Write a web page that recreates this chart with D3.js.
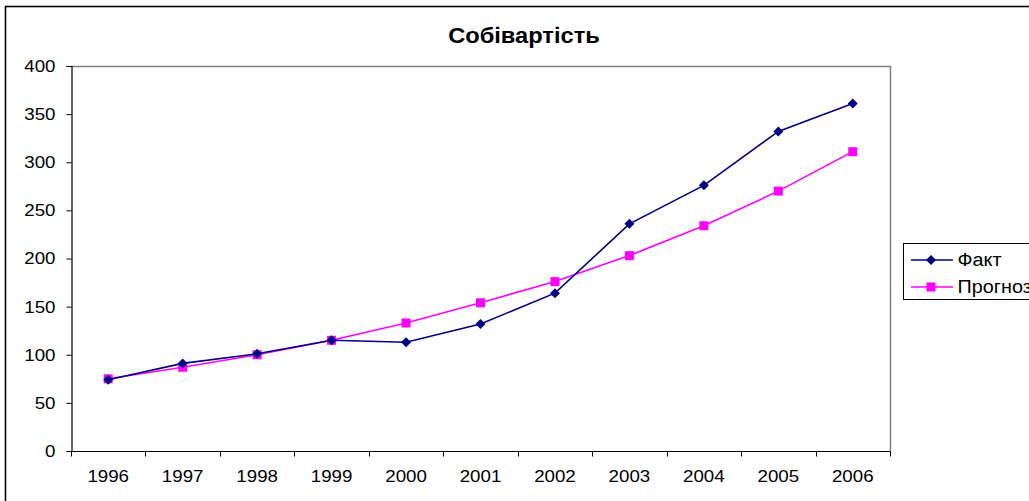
<!DOCTYPE html>
<html>
<head>
<meta charset="utf-8">
<script src="https://cdn.jsdelivr.net/npm/d3@7"></script>
<style>
  html, body { margin: 0; padding: 0; background: #fff; }
  svg { display: block; }
  text { font-family: "Liberation Sans", Arial, sans-serif; fill: #000; }
</style>
</head>
<body>
<svg id="chart" width="1029" height="501"></svg>
<script>
// Cost price: actual vs forecast, 1996–2006
const years = ["1996","1997","1998","1999","2000","2001","2002","2003","2004","2005","2006"];
const fact = [74, 91, 101, 115, 113, 132, 164, 236, 276, 332, 361];
const forecast = [75, 87, 100, 115, 133, 154, 176, 203, 234, 270, 311];
const yTicks = [0, 50, 100, 150, 200, 250, 300, 350, 400];
const seriesNames = ["Факт", "Прогноз"];
const title = "Собівартість";

const svg = d3.select("#chart");
const W = 1029, H = 501;
const STRETCH = 1.1; // text is drawn slightly wide

// widen a text selection horizontally while keeping its anchor
function widen(sel) {
  sel.each(function () {
    const len = this.getComputedTextLength();
    d3.select(this).attr("textLength", len * STRETCH).attr("lengthAdjust", "spacingAndGlyphs");
  });
}

// outer chart frame
svg.append("rect")
  .attr("x", 5.5).attr("y", 6.5)
  .attr("width", W + 10).attr("height", H + 10)
  .attr("fill", "#fff").attr("stroke", "#000").attr("stroke-width", 1.6);

const plot = { left: 71, right: 890, top: 66, bottom: 451 };

const x = d3.scaleBand().domain(years).range([plot.left, plot.right]);
const y = d3.scaleLinear().domain([0, 400]).range([plot.bottom, plot.top]);

// plot area frame (top and right in grey)
svg.append("path")
  .attr("d", `M${plot.left},${plot.top + 0.5}H${plot.right + 0.5}V${plot.bottom}`)
  .attr("fill", "none").attr("stroke", "#808080").attr("stroke-width", 1.5);

// title
svg.append("text")
  .attr("x", 524).attr("y", 43)
  .attr("text-anchor", "middle")
  .attr("font-size", 21.5).attr("font-weight", "bold")
  .text(title)
  .call(widen);

// y axis
const yAxis = d3.axisLeft(y).tickValues(yTicks).tickSize(5).tickPadding(11).tickFormat(d3.format("d"));
const gy = svg.append("g").attr("transform", `translate(${plot.left + 0.5},0)`).call(yAxis);
gy.attr("font-size", null).attr("font-family", null);
gy.select(".domain").attr("stroke", "#000").attr("stroke-width", 1.2);
gy.selectAll(".tick line").attr("stroke", "#000");
gy.selectAll(".tick text").attr("font-size", 17).call(widen);

// x axis: ticks between categories
const gx = svg.append("g").attr("transform", `translate(0,${plot.bottom + 0.5})`);
gx.append("line")
  .attr("x1", plot.left).attr("x2", plot.right + 0.5)
  .attr("stroke", "#000").attr("stroke-width", 1.2);
const boundaries = years.map(d => x(d)).concat([plot.right]);
gx.selectAll("line.tk").data(boundaries).enter().append("line")
  .attr("class", "tk")
  .attr("x1", d => Math.round(d) + 0.5).attr("x2", d => Math.round(d) + 0.5)
  .attr("y1", 0).attr("y2", 5)
  .attr("stroke", "#000");
gx.selectAll("text").data(years).enter().append("text")
  .attr("x", d => x(d) + x.bandwidth() / 2)
  .attr("y", 30.5)
  .attr("text-anchor", "middle")
  .attr("font-size", 17)
  .text(d => d)
  .call(widen);

const cx = d => x(d) + x.bandwidth() / 2;
const line = d3.line().x((d, i) => cx(years[i])).y(d => y(d));

const navy = "#000080", magenta = "#ff00ff";

// forecast series
svg.append("path").datum(forecast)
  .attr("d", line).attr("fill", "none")
  .attr("stroke", magenta).attr("stroke-width", 1.6);
svg.selectAll("rect.fc").data(forecast).enter().append("rect")
  .attr("class", "fc")
  .attr("x", (d, i) => cx(years[i]) - 4.5).attr("y", d => y(d) - 4.5)
  .attr("width", 9).attr("height", 9)
  .attr("fill", magenta);

// actual series
svg.append("path").datum(fact)
  .attr("d", line).attr("fill", "none")
  .attr("stroke", navy).attr("stroke-width", 1.6);
svg.selectAll("path.fa").data(fact).enter().append("path")
  .attr("class", "fa")
  .attr("d", d3.symbol().type(d3.symbolSquare).size(50))
  .attr("transform", (d, i) => `translate(${cx(years[i])},${y(d)}) rotate(45)`)
  .attr("fill", navy);

// legend
const lg = svg.append("g");
lg.append("rect")
  .attr("x", 903.5).attr("y", 243.5)
  .attr("width", 140).attr("height", 56)
  .attr("fill", "#fff").attr("stroke", "#000").attr("stroke-width", 1);
const legendRows = [
  { name: seriesNames[0], color: navy, y: 260, marker: "diamond" },
  { name: seriesNames[1], color: magenta, y: 287, marker: "square" }
];
legendRows.forEach(r => {
  lg.append("line").attr("x1", 911).attr("x2", 953)
    .attr("y1", r.y).attr("y2", r.y)
    .attr("stroke", r.color).attr("stroke-width", 1.6);
  if (r.marker === "diamond") {
    lg.append("path")
      .attr("d", d3.symbol().type(d3.symbolSquare).size(50))
      .attr("transform", `translate(931,${r.y}) rotate(45)`)
      .attr("fill", r.color);
  } else {
    lg.append("rect").attr("x", 926.5).attr("y", r.y - 4.5)
      .attr("width", 9).attr("height", 9).attr("fill", r.color);
  }
  lg.append("text").attr("x", 957.5).attr("y", r.y + 6)
    .attr("font-size", 18).text(r.name).call(widen);
});
</script>
</body>
</html>
